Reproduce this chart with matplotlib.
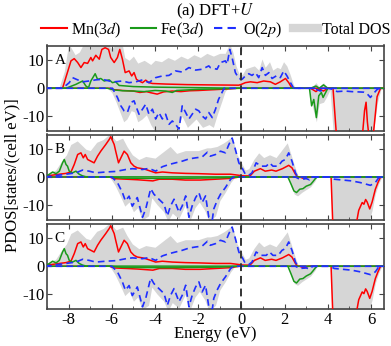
import numpy as np
import matplotlib
matplotlib.use('Agg')
import matplotlib.pyplot as plt
from matplotlib.lines import Line2D

plt.rcParams['font.family'] = ['Liberation Serif', 'DejaVu Serif']
plt.rcParams['mathtext.fontset'] = 'stix'
plt.rcParams['font.size'] = 11

# ---- panel A : (energy, PDOS) ----
A_TOT_UP = [(-9.1, 0), (-8.45, 0), (-8.2, 6), (-8.0, 16), (-7.7, 12), (-7.5, 13), (-7.3, 16), (-6.2, 16),
            (-6.0, 14), (-5.8, 16), (-5.5, 15), (-5.4, 11), (-5.2, 10), (-5.0, 11.5), (-4.8, 9), (-4.5, 10),
            (-4.2, 8.5), (-4.0, 10), (-3.7, 9.5), (-3.4, 11), (-3.1, 10), (-2.8, 11.5), (-2.5, 10.5),
            (-2.2, 12), (-1.9, 11), (-1.6, 12.5), (-1.3, 11.5), (-1.0, 12.5), (-0.75, 12.5), (-0.55, 16),
            (-0.4, 13), (-0.25, 8), (-0.1, 5), (0.05, 5), (0.2, 7), (0.4, 7.5), (0.6, 8), (0.8, 6.5),
            (0.95, 10.5), (1.1, 7.5), (1.3, 9.5), (1.45, 6.5), (1.65, 7.5), (1.8, 7), (1.95, 9.5),
            (2.1, 8), (2.25, 5), (2.4, 1.5), (2.5, 0), (3.2, 0), (3.45, 2), (3.6, 0.5), (3.8, 2),
            (4.0, 0), (6.7, 0)]
A_TOT_DN = [(-9.1, 0), (-6.2, 0), (-6.0, -1.5), (-5.8, -5), (-5.6, -9), (-5.45, -12), (-5.3, -11),
            (-5.1, -8), (-4.95, -8.5), (-4.8, -12), (-4.6, -11), (-4.4, -9.5), (-4.2, -13), (-4.0, -15.5),
            (-3.0, -16), (-2.75, -10), (-2.5, -14), (-2.1, -11), (-1.8, -14), (-1.5, -13), (-1.3, -14),
            (-1.1, -9), (-0.9, -4.5), (-0.75, -1), (-0.6, 0), (3.15, 0), (3.3, -7), (3.47, -12),
            (3.6, -5.5), (3.8, -5), (3.95, -3), (4.1, -0.5), (4.25, -16), (6.1, -16), (6.3, -5),
            (6.45, -0.5), (6.7, 0)]
A_MN_UP = [(-9.1, 0), (-8.28, 0), (-7.89, 9.8), (-7.74, 10.6), (-7.58, 9.2), (-7.43, 7.4), (-7.28, 9.2),
           (-7.12, 8.9), (-6.97, 11.0), (-6.89, 9.8), (-6.74, 11.8), (-6.58, 10.4), (-6.46, 13.9),
           (-6.31, 14.5), (-6.15, 13.9), (-6.05, 11.0), (-5.89, 9.2), (-5.74, 11.0), (-5.63, 13.9),
           (-5.51, 10.4), (-5.38, 5.6), (-5.2, 6.2), (-5.08, 4.4), (-4.97, 5.6), (-4.86, 3.2),
           (-4.74, 2.6), (-4.58, 2.0), (-4.43, 2.9), (-4.28, 2.0), (-4.12, 1.7), (-3.5, 1.5),
           (-2.5, 1.3), (-1.5, 1.2), (-0.12, 1.1), (0.0, 1.4), (0.18, 2.0), (0.42, 2.3), (0.73, 2.0),
           (1.03, 2.6), (1.34, 2.3), (1.57, 1.4), (1.8, 2.3), (2.04, 3.5), (2.19, 2.0), (2.34, 0),
           (6.7, 0)]
A_MN_DN = [(-9.1, 0), (-6.1, 0), (-5.9, -0.5), (-5.5, -0.8), (-5.0, -1.0), (-4.7, -1.5), (-4.4, -1.2),
           (-4.2, -1.6), (-3.9, -2.1), (-3.6, -1.3), (-3.2, -1.0), (-2.8, -1.2), (-2.4, -0.9),
           (-2.0, -0.8), (-1.5, -0.6), (-1.0, -0.4), (-0.5, -0.2), (-0.2, 0), (3.2, 0), (3.45, -1.2),
           (3.6, -0.3), (3.8, -1.0), (4.0, 0), (4.24, 0), (4.4, -17), (5.6, -17), (5.7, -8),
           (5.77, -5.0), (5.83, -12), (5.9, -17), (6.1, -17), (6.28, -3.0), (6.44, 0), (6.7, 0)]
A_FE_UP = [(-9.1, 0), (-8.12, 0), (-7.66, 1.4), (-7.35, 2.6), (-7.2, 0.8), (-7.08, 0.2), (-6.97, 2.6),
           (-6.77, 5.2), (-6.66, 3.2), (-6.51, 3.5), (-6.35, 2.6), (-6.12, 3.0), (-5.97, 2.0),
           (-5.82, 2.3), (-5.66, 1.0), (-5.0, 0.6), (-4.0, 0.4), (-3.0, 0.3), (-2.0, 0.2), (-1.0, 0.1),
           (0.0, 0), (3.2, 0), (3.45, 0.8), (3.6, 0), (3.8, 1.2), (4.0, 0), (6.7, 0)]
A_FE_DN = [(-9.1, 0), (-6.2, 0), (-5.9, -0.6), (-5.5, -0.9), (-5.0, -1.0), (-4.5, -1.2), (-4.0, -0.8),
           (-3.5, -1.0), (-3.2, -1.5), (-3.0, -0.8), (-2.5, -0.6), (-2.0, -0.4), (-1.0, -0.2), (0.0, 0),
           (3.15, 0), (3.25, -6.3), (3.35, -4.0), (3.47, -10.5), (3.58, -2.7), (3.7, -1.5),
           (3.78, -3.3), (3.9, -1.5), (4.0, 0), (6.7, 0)]
A_O_UP = [(-9.1, 0), (-8.28, 0), (-7.97, 2.0), (-7.82, 3.8), (-7.58, 3.0), (-7.35, 2.3), (-7.05, 2.6),
          (-6.74, 3.0), (-6.43, 3.2), (-6.12, 2.6), (-5.89, 2.3), (-5.51, 2.6), (-5.2, 2.0), (-4.89, 2.3),
          (-4.58, 3.0), (-4.28, 2.0), (-3.97, 3.8), (-3.66, 4.4), (-3.35, 4.6), (-3.05, 6.2),
          (-2.74, 5.8), (-2.43, 7.4), (-2.12, 6.5), (-1.82, 6.8), (-1.51, 8.0), (-1.44, 7.4),
          (-1.13, 6.8), (-0.97, 9.2), (-0.74, 9.8), (-0.66, 8.6), (-0.54, 13.9), (-0.43, 10.9),
          (-0.28, 5.6), (-0.12, 3.5), (0.03, 3.2), (0.18, 4.4), (0.34, 5.2), (0.49, 4.6), (0.65, 5.6),
          (0.8, 3.8), (0.96, 7.4), (1.11, 4.6), (1.27, 5.6), (1.42, 3.5), (1.65, 4.6), (1.8, 3.8),
          (1.96, 6.2), (2.11, 4.4), (2.27, 2.0), (2.42, 0), (6.7, 0)]
A_O_DN = [(-9.1, 0), (-5.97, 0), (-5.74, -3.3), (-5.58, -6.3), (-5.43, -8.1), (-5.28, -8.7),
          (-5.12, -5.1), (-4.97, -4.5), (-4.89, -6.3), (-4.74, -9.3), (-4.58, -7.5), (-4.43, -5.7),
          (-4.28, -9.3), (-4.12, -7.5), (-3.97, -11.0), (-3.82, -8.7), (-3.66, -11.0), (-3.51, -9.3),
          (-3.35, -12.9), (-3.2, -11.7), (-3.05, -12.9), (-2.89, -14.6), (-2.74, -6.3), (-2.58, -8.7),
          (-2.43, -11.0), (-2.28, -9.3), (-2.12, -7.5), (-1.97, -8.1), (-1.82, -9.9), (-1.66, -11.0),
          (-1.51, -8.7), (-1.35, -10.5), (-1.2, -7.5), (-1.06, -4.0), (-0.8, 0), (3.2, 0),
          (3.5, -0.5), (3.66, -1.0), (3.8, -0.3), (4.0, 0), (4.3, -0.5), (4.43, -1.2), (4.8, -1.0),
          (5.1, -1.2), (5.4, -1.3), (5.66, -1.4), (5.8, -1.8), (5.97, -3.3), (6.1, -2.0), (6.3, -0.3),
          (6.45, 0), (6.7, 0)]

# ---- panel B ----
B_TOT_UP = [(-9.1, 0.8), (-8.6, 2.5), (-8.3, 6), (-8.1, 8), (-7.9, 11.7), (-7.6, 13), (-7.2, 10),
            (-7.0, 9.5), (-6.7, 12.5), (-6.4, 13.5), (-6.1, 15.5), (-5.8, 13), (-5.5, 14), (-5.3, 11),
            (-5.05, 8), (-4.75, 6.3), (-4.43, 7.4), (-4.0, 6.8), (-3.6, 9.2), (-3.3, 11), (-3.0, 8.5),
            (-2.6, 9.5), (-2.0, 9.5), (-1.6, 10.5), (-1.44, 10.5), (-1.13, 11), (-0.82, 12.3),
            (-0.6, 13.5), (-0.43, 14.6), (-0.2, 8), (0.0, 5.1), (0.18, 2.5), (0.34, 3), (0.57, 6.3),
            (0.8, 8.7), (1.03, 7), (1.3, 8), (1.6, 7), (1.8, 9), (2.12, 12.3), (2.27, 8.7), (2.5, 3),
            (2.65, 0), (6.7, 0)]
B_TOT_DN = [(-9.1, 0), (-6.1, 0), (-5.85, -3), (-5.6, -7), (-5.4, -10.5), (-5.2, -9), (-5.0, -12.5),
            (-4.8, -11), (-4.6, -15.5), (-4.3, -14), (-4.15, -7.5), (-3.9, -10), (-3.6, -12.5),
            (-3.4, -16), (-3.2, -13), (-2.9, -15), (-2.6, -10), (-2.4, -16), (-2.15, -11), (-1.95, -9),
            (-1.7, -12), (-1.5, -16), (-1.2, -14), (-1.0, -8.5), (-0.75, -5.5), (-0.5, -2), (-0.3, 0),
            (2.15, 0), (2.3, -3.5), (2.45, -6.2), (2.6, -6.8), (2.8, -5.5), (3.0, -4.5), (3.2, -3.5),
            (3.4, -1.5), (3.5, 0), (4.12, 0), (4.2, -16), (5.9, -16), (6.05, -12), (6.2, -6),
            (6.35, -2.5), (6.5, 0), (6.7, 0)]
B_MN_UP = [(-9.1, 0.3), (-8.43, 1.0), (-8.12, 1.3), (-7.89, 1.8), (-7.74, 4.5), (-7.58, 8.1),
           (-7.43, 8.7), (-7.32, 6.9), (-7.23, 8.1), (-7.12, 6.3), (-6.97, 5.7), (-6.82, 5.1),
           (-6.66, 7.5), (-6.51, 9.3), (-6.28, 11.7), (-6.12, 13.5), (-6.05, 14.5), (-5.89, 11.7),
           (-5.82, 9.3), (-5.69, 5.1), (-5.58, 6.9), (-5.43, 9.3), (-5.28, 8.1), (-5.12, 5.1),
           (-4.97, 3.9), (-4.82, 3.3), (-4.58, 3.0), (-4.43, 2.7), (-4.2, 2.1), (-3.97, 1.5),
           (-3.66, 1.8), (-3.2, 1.5), (-2.58, 1.3), (-1.97, 1.2), (-1.2, 1.0), (-0.5, 1.0),
           (-0.1, 0.6), (0.1, 0.4), (0.4, 0.4), (0.6, 2.1), (0.88, 3.0), (1.1, 2.1), (1.4, 2.5),
           (1.6, 2.1), (1.9, 3.0), (2.19, 4.2), (2.34, 3.3), (2.5, 1.0), (2.6, 0), (6.7, 0)]
B_MN_DN = [(-9.1, 0), (-6.1, 0), (-5.9, -0.6), (-5.3, -0.8), (-4.8, -1.0), (-4.1, -1.4), (-3.8, -0.8),
           (-3.2, -0.8), (-2.6, -1.1), (-1.9, -1.1), (-1.2, -0.8), (-0.5, -0.5), (-0.1, 0), (2.7, 0),
           (2.9, -0.6), (3.1, 0), (4.15, 0), (4.23, -17), (5.3, -17), (5.36, -15), (5.43, -12),
           (5.59, -9.2), (5.67, -9.8), (5.75, -8.1), (5.82, -9.0), (5.94, -11.5), (6.05, -9.0),
           (6.2, -4.4), (6.32, -2.0), (6.44, 0), (6.7, 0)]
B_FE_UP = [(-9.1, 0), (-8.89, 1.0), (-8.74, 1.8), (-8.58, 1.2), (-8.43, 2.1), (-8.28, 5.1), (-8.2, 6.3),
           (-8.12, 4.5), (-8.05, 3.9), (-7.97, 2.1), (-7.82, 1.5), (-7.66, 2.1), (-7.51, 1.0),
           (-7.35, 0.4), (-7.2, 0.1), (-6.0, 0.05), (6.7, 0)]
B_FE_DN = [(-9.1, 0), (-6.1, 0), (-5.5, -0.4), (-4.0, -0.5), (-3.0, -0.5), (-2.0, -0.4), (-1.0, -0.3),
           (-0.1, 0), (2.15, 0), (2.3, -2.6), (2.43, -5.0), (2.55, -5.6), (2.7, -4.4), (2.85, -4.2),
           (3.0, -3.3), (3.2, -2.7), (3.3, -1.8), (3.42, -0.6), (3.5, 0), (6.7, 0)]
B_O_UP = [(-9.1, 0), (-8.12, 1.0), (-7.66, 1.5), (-7.35, 2.5), (-7.05, 2.1), (-6.74, 1.5), (-6.28, 1.8),
          (-5.82, 2.0), (-5.35, 2.7), (-5.05, 3.0), (-4.58, 2.7), (-4.28, 3.1), (-3.97, 2.1),
          (-3.66, 3.7), (-3.35, 4.5), (-3.05, 5.1), (-2.74, 5.7), (-2.43, 6.5), (-2.12, 6.9),
          (-1.82, 7.2), (-1.58, 8.9), (-1.44, 7.5), (-1.2, 8.1), (-0.97, 9.3), (-0.74, 8.7),
          (-0.58, 11.7), (-0.43, 14.0), (-0.28, 9.9), (-0.12, 5.1), (0.03, 3.3), (0.18, 1.0),
          (0.34, 0.6), (0.49, 1.5), (0.68, 5.1), (0.92, 3.9), (1.15, 3.9), (1.3, 5.1), (1.46, 3.9),
          (1.7, 3.9), (1.88, 5.7), (2.03, 6.3), (2.19, 8.7), (2.34, 5.7), (2.5, 1.5), (2.61, 0),
          (6.7, 0)]
B_O_DN = [(-9.1, 0), (-6.0, 0), (-5.74, -2.0), (-5.51, -5.6), (-5.37, -8.6), (-5.2, -6.9),
          (-5.05, -10.5), (-4.82, -7.4), (-4.58, -14.5), (-4.43, -11.5), (-4.2, -4.2), (-4.05, -6.2),
          (-3.82, -8.0), (-3.58, -9.8), (-3.43, -14.0), (-3.28, -10.4), (-3.12, -8.0), (-2.89, -12.7),
          (-2.74, -10.4), (-2.58, -6.8), (-2.43, -14.5), (-2.28, -10.4), (-2.12, -7.4), (-1.97, -5.6),
          (-1.82, -9.2), (-1.66, -6.8), (-1.51, -14.5), (-1.35, -15.5), (-1.28, -11.5), (-1.13, -8.6),
          (-0.97, -6.2), (-0.74, -3.8), (-0.5, -0.8), (-0.36, 0), (2.5, 0), (2.7, -0.8), (3.0, -0.6),
          (3.15, -1.0), (3.3, 0), (4.1, 0), (4.3, -0.8), (4.7, -1.1), (5.1, -1.4), (5.5, -2.0),
          (5.97, -3.0), (6.2, -2.0), (6.35, -0.3), (6.45, 0), (6.7, 0)]

# ---- panel C (practically identical to B in the figure) ----
C_TOT_UP, C_TOT_DN = B_TOT_UP, B_TOT_DN
C_MN_UP, C_MN_DN = B_MN_UP, B_MN_DN
C_FE_UP = B_FE_UP
C_FE_DN = [(-9.1, 0), (-6.1, 0), (-5.5, -0.4), (-4.0, -0.5), (-3.0, -0.5), (-2.0, -0.4), (-1.0, -0.3),
           (-0.1, 0), (2.15, 0), (2.3, -2.8), (2.43, -5.4), (2.55, -6.0), (2.7, -4.6), (2.85, -4.4),
           (3.0, -3.5), (3.2, -2.7), (3.3, -1.8), (3.42, -0.6), (3.5, 0), (6.7, 0)]
C_O_UP, C_O_DN = B_O_UP, B_O_DN

panels = [
    ('A', A_TOT_UP, A_TOT_DN, A_MN_UP, A_MN_DN, A_FE_UP, A_FE_DN, A_O_UP, A_O_DN),
    ('B', B_TOT_UP, B_TOT_DN, B_MN_UP, B_MN_DN, B_FE_UP, B_FE_DN, B_O_UP, B_O_DN),
    ('C', C_TOT_UP, C_TOT_DN, C_MN_UP, C_MN_DN, C_FE_UP, C_FE_DN, C_O_UP, C_O_DN),
]

W, H = 391, 346
fig = plt.figure(figsize=(W / 100, H / 100), dpi=100)
boxes = [(45.5, 131), (134.5, 219.5), (223.5, 309)]
left, right = 47, 384

grey = '#d6d6d6'
spine_col = '#444444'


def xy(pts):
    a = np.array(pts, dtype=float)
    return a[:, 0], a[:, 1]


for i, (lab, tu, td, mu, md, fu, fd, ou, od) in enumerate(panels):
    top, bot = boxes[i]
    ax = fig.add_axes([left / W, 1 - bot / H, (right - left) / W, (bot - top) / H])

    # total DOS as grey band between spin-down and spin-up
    eu, vu = xy(tu)
    ed, vd = xy(td)
    grid = np.union1d(eu, ed)
    ax.fill_between(grid, np.interp(grid, ed, vd), np.interp(grid, eu, vu),
                    color=grey, lw=0, zorder=1)

    for pts, c in [(mu, 'red'), (md, 'red'), (fu, '#1a9a1a'), (fd, '#1a9a1a')]:
        e, v = xy(pts)
        ax.plot(e, v, color=c, lw=1.1, zorder=3)
    for pts in (ou, od):
        e, v = xy(pts)
        ax.plot(e, v, color='#1f2fff', lw=1.2, ls=(0, (4, 2.5)), zorder=4)

    ax.axvline(0, color='#333333', lw=1.4, ls=(0, (4, 2.5)), zorder=5)

    ax.set_xlim(-9, 6.6)
    ax.set_ylim(-15.3, 15.3)
    ax.set_yticks([-10, 0, 10])
    ax.set_yticklabels(['-10', '0', '10'])
    ax.set_xticks(np.arange(-8, 7, 2))
    ax.set_xticks(np.arange(-9, 7, 1), minor=True)
    ax.tick_params(direction='in', top=True, right=True, which='both',
                   labelsize=12, pad=2, color=spine_col)
    ax.tick_params(which='major', length=3.5)
    ax.tick_params(which='minor', length=2.5)
    for s in ax.spines.values():
        s.set_color(spine_col)
        s.set_linewidth(1.2)
    ax.text(0.022, 0.82, lab, transform=ax.transAxes, fontsize=11, va='center', ha='left')

    if i < 2:
        ax.set_xticklabels([])
    else:
        ax.set_xticklabels(['-8', '-6', '-4', '-2', '0', '2', '4', '6'])
        ax.set_xlabel('Energy (eV)', fontsize=12, labelpad=-1)

fig.text(12 / W, 1 - 175 / H, 'PDOS[states/(cell eV)]', rotation=90,
         ha='center', va='center', fontsize=12)
fig.text(215 / W, 1 - 11 / H, '(a) DFT+$U$', ha='center', va='center', fontsize=12)

handles = [Line2D([], [], color='red', lw=1.5),
           Line2D([], [], color='#1a9a1a', lw=1.5),
           Line2D([], [], color='#1f2fff', lw=1.5, ls=(0, (4, 2.5))),
           Line2D([], [], color=grey, lw=6)]
labels = ['Mn(3$d$)', 'Fe(3$d$)', 'O(2$p$)', 'Total DOS']
fig.legend(handles, labels, loc='center', bbox_to_anchor=(216 / W, 1 - 30 / H), ncol=4,
           frameon=False, fontsize=11.5, handlelength=1.6, handletextpad=0.25,
           columnspacing=0.6, borderpad=0, borderaxespad=0)

fig.savefig('out.png', dpi=100)
